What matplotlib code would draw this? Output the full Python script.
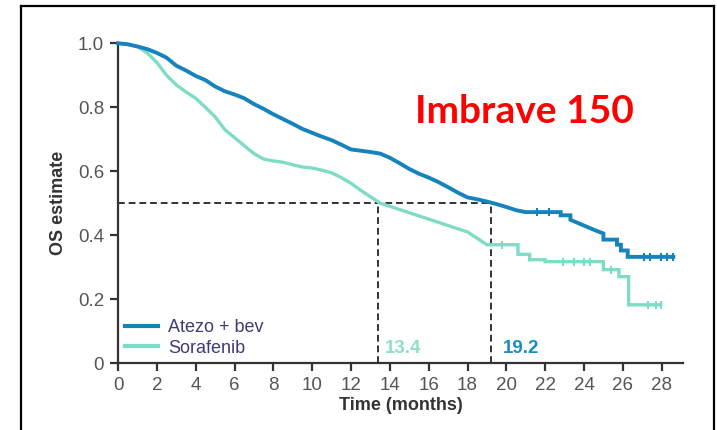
import matplotlib
matplotlib.use("Agg")
import matplotlib.pyplot as plt
from matplotlib.lines import Line2D

# Kaplan-Meier OS estimates; dense early part joined directly,
# sparse tail given as explicit step corners
atezo_t = [0, 0.5, 1.0, 1.5, 2.0, 2.5, 3.0, 3.5, 4.0, 4.5, 5.0, 5.5, 6.0, 6.5,
           7.0, 7.5, 8.0, 8.5, 9.0, 9.5, 10.0, 10.5, 11.0, 11.5, 12.0, 12.5,
           13.0, 13.5, 14.0, 14.5, 15.0, 15.5, 16.0, 16.5, 17.0, 17.5, 18.0,
           18.5, 19.0, 19.5, 20.0, 20.5, 21.0, 22.8, 22.8, 23.3, 23.3, 23.8,
           24.5, 25.0, 25.0, 25.7, 25.7, 25.9, 25.9, 26.25, 26.25, 28.6]
atezo_s = [1.0, 0.997, 0.99, 0.982, 0.97, 0.955, 0.93, 0.915, 0.898, 0.885,
           0.865, 0.85, 0.84, 0.828, 0.81, 0.795, 0.778, 0.763, 0.748, 0.732,
           0.72, 0.708, 0.697, 0.683, 0.668, 0.664, 0.66, 0.655, 0.642, 0.625,
           0.607, 0.592, 0.58, 0.566, 0.55, 0.533, 0.518, 0.512, 0.505, 0.497,
           0.488, 0.478, 0.472, 0.472, 0.462, 0.462, 0.448, 0.435, 0.417,
           0.405, 0.386, 0.386, 0.37, 0.37, 0.352, 0.352, 0.332, 0.332]
atezo_cens_t = [21.6, 22.2, 27.1, 27.4, 27.95, 28.3, 28.6]
atezo_cens_s = [0.472, 0.472, 0.332, 0.332, 0.332, 0.332, 0.332]

sora_t = [0, 0.5, 1.0, 1.5, 2.0, 2.5, 3.0, 3.5, 4.0, 4.5, 5.0, 5.5, 6.0, 6.5,
          7.0, 7.5, 8.0, 8.5, 9.0, 9.5, 10.0, 10.5, 11.0, 11.5, 12.0, 12.5,
          13.0, 13.5, 14.0, 14.5, 15.0, 15.5, 16.0, 16.5, 17.0, 17.5, 18.0,
          18.5, 19.0, 20.6, 20.6, 21.2, 21.2, 22.0, 22.0, 25.0, 25.0, 25.8,
          25.8, 26.3, 26.3, 27.95]
sora_s = [1.0, 0.997, 0.99, 0.97, 0.94, 0.90, 0.87, 0.848, 0.828, 0.80, 0.77,
          0.73, 0.705, 0.68, 0.655, 0.638, 0.632, 0.628, 0.62, 0.613, 0.61,
          0.603, 0.595, 0.58, 0.562, 0.54, 0.52, 0.50, 0.49, 0.48, 0.47, 0.46,
          0.45, 0.44, 0.43, 0.42, 0.41, 0.39, 0.37, 0.37, 0.34, 0.34, 0.323,
          0.323, 0.317, 0.317, 0.292, 0.292, 0.27, 0.27, 0.182, 0.182]
sora_cens_t = [19.8, 22.9, 23.5, 24.0, 24.3, 25.4, 27.3, 27.7, 27.95]
sora_cens_s = [0.37, 0.317, 0.317, 0.317, 0.317, 0.292, 0.182, 0.182, 0.182]

medians = [13.4, 19.2]
x_ticks = list(range(0, 29, 2))
y_ticks = [0, 0.2, 0.4, 0.6, 0.8, 1.0]
y_labels = ["0", "0.2", "0.4", "0.6", "0.8", "1.0"]

blue = "#1683bd"
teal = "#7edcc6"

fig = plt.figure(figsize=(7.17, 4.30), dpi=100)
ax = fig.add_axes([0.1646, 0.1558, 0.788, 0.7435])

ax.plot(atezo_t, atezo_s, color=blue, lw=2.8, clip_on=False, zorder=4,
        solid_joinstyle="miter", label="Atezo + bev")
ax.plot(sora_t, sora_s, color=teal, lw=2.4, clip_on=False, zorder=3,
        solid_joinstyle="miter", label="Sorafenib")
ax.plot(atezo_cens_t, atezo_cens_s, ls="none", marker="|", ms=6, mew=1.5,
        color=blue, zorder=4)
ax.plot(sora_cens_t, sora_cens_s, ls="none", marker="|", ms=6, mew=1.5,
        color=teal, zorder=3)

# median guide lines
dash = dict(color="#333333", lw=1.4, ls=(0, (3.5, 2)), zorder=2)
ax.plot([0, medians[1]], [0.5, 0.5], **dash)
for m in medians:
    ax.plot([m, m], [0, 0.5], **dash)

ax.text(13.75, 0.045, "13.4", color="#8fe0cb", fontsize=13.5, fontweight="bold",
        family="Liberation Sans", va="center", ha="left")
ax.text(19.8, 0.045, "19.2", color="#1a8cc0", fontsize=13.5, fontweight="bold",
        family="Liberation Sans", va="center", ha="left")

ax.set_xlim(0, 29.1)
ax.set_ylim(0, 1.0)
ax.set_xticks(x_ticks)
ax.set_yticks(y_ticks)
ax.set_yticklabels(y_labels)
for side in ["top", "right"]:
    ax.spines[side].set_visible(False)
for side in ["left", "bottom"]:
    ax.spines[side].set_linewidth(1.6)
    ax.spines[side].set_color("#333333")
ax.tick_params(direction="out", length=6, width=1.6, color="#333333",
               labelsize=13.5, labelcolor="#555555", pad=4)
for lab in ax.get_xticklabels() + ax.get_yticklabels():
    lab.set_family("Liberation Sans")

ax.set_xlabel("Time (months)", fontsize=13, fontweight="bold", color="#333333",
              family="Liberation Sans", labelpad=2)
ax.set_ylabel("OS estimate", fontsize=13, fontweight="bold", color="#333333",
              family="Liberation Sans", labelpad=8)

leg = ax.legend(loc="lower left", bbox_to_anchor=(0.012, 0.02), frameon=False,
                borderpad=0, borderaxespad=0, handlelength=1.85,
                handletextpad=0.55, labelspacing=0.2,
                prop={"family": "Liberation Sans", "size": 13})
for txt in leg.get_texts():
    txt.set_color("#3c3c78")
for h in leg.get_lines():
    h.set_linewidth(3)

fig.text(0.732, 0.74, "Imbrave 150", color="#ff0000", fontsize=28,
         fontweight="bold", family="Lato", ha="center", va="center")

# slide frame around the figure
frame = dict(color="black", lw=1.6, transform=fig.transFigure)
fig.add_artist(Line2D([21 / 717, 21 / 717], [0, 1 - 6 / 430], **frame))
fig.add_artist(Line2D([21 / 717, 714 / 717], [1 - 6 / 430, 1 - 6 / 430], **frame))
fig.add_artist(Line2D([714 / 717, 714 / 717], [0, 1 - 6 / 430], **frame))

fig.savefig("out.png", dpi=100)
